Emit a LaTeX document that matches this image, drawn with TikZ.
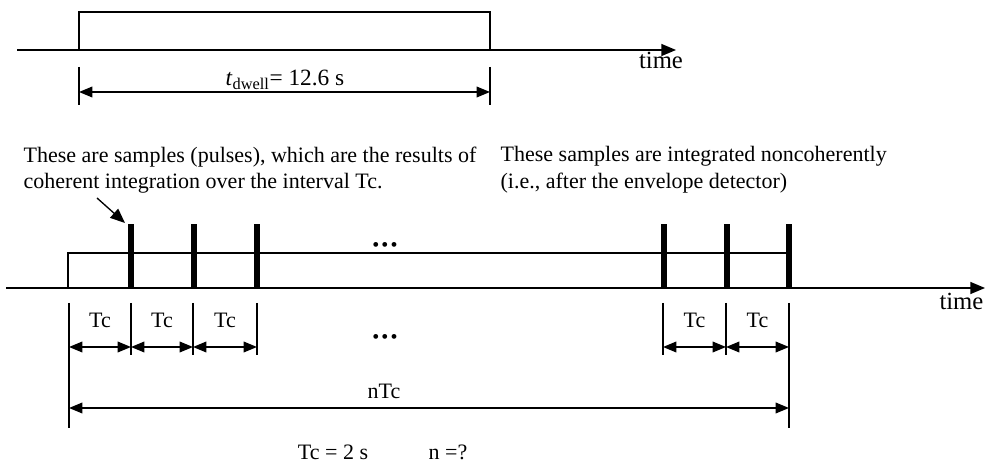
\documentclass[tikz,border=0pt]{standalone}
\usepackage{fontspec}
\setmainfont{Liberation Serif}
\usetikzlibrary{arrows.meta}

\begin{document}
\begin{tikzpicture}[x=0.75pt, y=-0.75pt, line width=1pt,
  tip/.style={-{Triangle[length=11pt,width=9pt]}},
  dim/.style={{Triangle[length=10pt,width=8pt]}-{Triangle[length=10pt,width=8pt]}},
  pulse/.style={line width=4.5pt},
  txt/.style={font=\fontsize{16.5}{20}\selectfont, inner sep=0pt},
  dots/.style={font=\fontsize{15}{15}\selectfont, inner sep=0pt}]
 \useasboundingbox (0,0) rectangle (985,466);

 % top time axis with the dwell window
 \coordinate (t0) at (17,50);
 \coordinate (t1) at (676,50);
 \draw [tip] (t0) -- (t1);
 \node [txt, font=\fontsize{18.5}{20}\selectfont, anchor=north] (time1) at (661,52) {time};
 \draw (79,50) -- (79,12) -- (490,12) -- (490,50);

 % dwell span
 \draw (79,67) coordinate (d0) -- (79,105);
 \draw (490,67) coordinate (d1) -- (490,105);
 \draw [dim] (79,92) -- (490,92);
 \node [txt, font=\fontsize{17.5}{20}\selectfont] (dwell) at (285,80) {\textit{t}\textsubscript{dwell}= 12.6 s};

 % comments above the pulse train
 \node [txt, anchor=north west, align=left] (note1) at (23,146)
  {These are samples (pulses), which are the results of\\coherent integration over the interval Tc.};
 \node [txt, anchor=north west, align=left] (note2) at (500,146)
  {These samples are integrated noncoherently\\(i.e., after the envelope detector)};

 % lower time axis and the window
 \coordinate (b0) at (6,288);
 \coordinate (b1) at (985,288);
 \draw [tip] (b0) -- (b1);
 \node [txt, font=\fontsize{18.5}{20}\selectfont, anchor=east] (time2) at (984,301) {time};
 \draw (68,288) -- (68,253) -- (789,253);

 % the pulses
 \foreach \x\n in {131/1,194/2,257/3,664/4,727/5,789/6} {
  \draw [pulse] (\x,288) -- (\x,224) coordinate (p\n);
 }
 \node [dots] (dots1) at (385,247) {\textbullet\kern1.6pt\textbullet\kern1.6pt\textbullet};
 \coordinate (ann) at (97,198);
 \draw [tip] (ann) -- ([shift={(-6,-1)}]p1);

 % Tc spans below the axis
 \newcommand{\TcSpan}[3]{
  % span from #1 to #2 at height #3
  \draw [dim] (#1,#3) -- (#2,#3) node [midway, txt, above=14pt] {Tc};
 }
 \foreach \x in {69,131,193,257,663,726,789} {
  \draw (\x,303) -- (\x,355);
 }
 \TcSpan{69}{131}{347}
 \TcSpan{131}{193}{347}
 \TcSpan{193}{257}{347}
 \TcSpan{663}{726}{347}
 \TcSpan{726}{789}{347}
 \node [dots] (dots2) at (385,339) {\textbullet\kern1.6pt\textbullet\kern1.6pt\textbullet};

 % whole span nTc
 \draw (69,355) coordinate (n0) -- (69,428);
 \draw (789,355) coordinate (n1) -- (789,428);
 \draw [dim] (69,408) -- (789,408);
 \node [txt] (ntc) at (384,391) {nTc};

 \node [txt] (tc) at (333,452) {Tc = 2 s};
 \node [txt] (nq) at (448,452) {n =?};
\end{tikzpicture}
\end{document}
